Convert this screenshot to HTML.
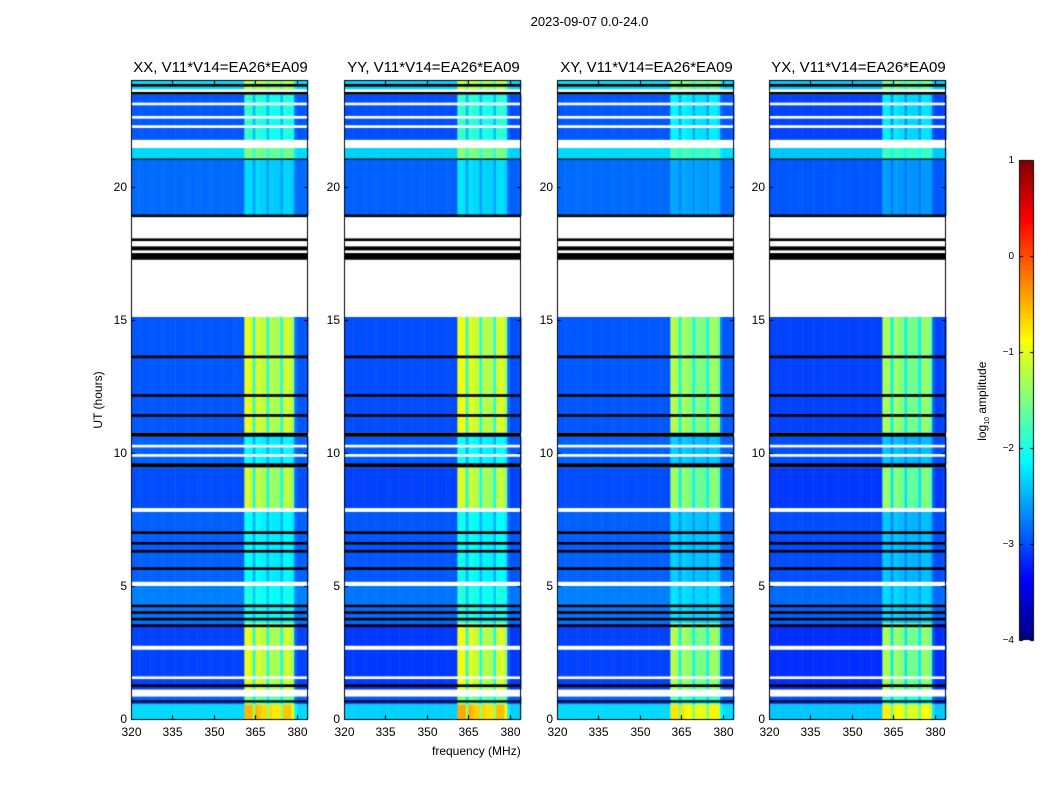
<!DOCTYPE html>
<html><head><meta charset="utf-8"><style>
body{margin:0;background:#fff;}
#wrap{position:relative;width:1050px;height:800px;overflow:hidden;font-family:"Liberation Sans",sans-serif;color:#000;}
.t{position:absolute;white-space:nowrap;}
canvas{position:absolute;}
</style></head><body>
<div id="wrap">
<div class="t" style="left:0;width:1179px;top:14px;text-align:center;font-size:13px;">2023-09-07 0.0-24.0</div>
<div class="t" style="left:432px;top:744px;font-size:12px;">frequency (MHz)</div>
<div class="t" style="left:60px;top:393px;font-size:12px;transform:rotate(-90deg);transform-origin:center;width:76px;text-align:center;">UT (hours)</div>
<div class="t" style="left:935px;top:393px;font-size:12px;transform:rotate(-90deg);width:96px;text-align:center;">log<sub style="font-size:7px">10</sub> amplitude</div>
<canvas id="cv" width="1050" height="800"></canvas>
</div>
<script>
const panelTitles=["XX, V11*V14=EA26*EA09","YY, V11*V14=EA26*EA09","XY, V11*V14=EA26*EA09","YX, V11*V14=EA26*EA09"];
const panelBandOffset=[0,0.05,-0.25,-0.3];
const panelBaseOffset=[0,-0.05,0,-0.1];
const freqTicks=[320,335,350,365,380];
const timeTicks=[0,5,10,15,20];
const cbTicks=[1,0,-1,-2,-3,-4];
// time segments: [startHour, endHour, baseLog, bandLog]
const segStart=[0,0.55,1.1,3.6,4.3,5.15,7.9,9.55,10.75,18.9,21.0,21.75,23.65];
const segEnd=[0.55,0.85,3.6,4.3,5.0,7.8,9.45,10.6,15.1,21.0,21.45,23.45,24];
const segBase=[-2.3,-2.9,-3.05,-2.8,-2.75,-2.9,-3.0,-2.9,-2.95,-2.85,-2.3,-2.95,-2.3];
const segBand=[-0.5,-1.5,-1.0,-2.0,-2.0,-2.1,-1.1,-2.1,-1.0,-2.3,-1.5,-1.9,-1.2];
// white (flagged) ranges
const whiteStart=[0.85,1.5,2.6,5.0,7.78,9.85,10.2,15.1,18.2,21.45,22.2,22.55,23.05];
const whiteEnd=[1.1,1.6,2.75,5.15,7.92,9.95,10.3,18.85,18.9,21.75,22.3,22.65,23.15];
// black ranges
const blackStart=[0.62,1.2,3.45,3.7,3.95,4.2,5.6,6.25,6.55,6.95,9.45,10.6,11.35,12.1,13.55,17.25,17.6,17.95,18.85,21.0,23.45,23.75];
const blackEnd=[0.7,1.3,3.55,3.8,4.05,4.3,5.7,6.35,6.65,7.05,9.6,10.75,11.45,12.2,13.65,17.5,17.75,18.05,18.95,21.05,23.55,23.85];
// band shape per 1 MHz column from 320 to 383
const bandMask=[0,0,0,0,0,0,0,0,0,0,0,0,0,0,0,0,0,0,0,0,0,0,0,0,0,0,0,0,0,0,0,0,0,0,0,0,0,0,0,0,0,1,1,1,0.5,1,0.95,0.9,0.9,0.5,0.9,0.85,0.85,0.85,0.5,0.95,0.95,0.95,0.8,0.1,0,0,0,0];

const X0=[131,344,557,769], PW=177, YT=80, YB=719;
const fx=(f,p)=>X0[p]+(f-320)*PW/64;
const ty=t=>YB-t*(YB-YT)/24;
function jet(v){let x=Math.max(0,Math.min(1,(v+4)/5));
 const c=k=>Math.max(0,Math.min(1,1.5-Math.abs(4*x-k)));
 return `rgb(${Math.round(255*c(3))},${Math.round(255*c(2))},${Math.round(255*c(1))})`;}
const cv=document.getElementById('cv'),g=cv.getContext('2d');
const wrap=document.getElementById('wrap');
function label(txt,x,y,al,fs,name){const d=document.createElement('div');d.className='t';d.textContent=txt;
 d.style.fontSize=fs+'px';d.style.top=(y-fs*0.6)+'px';d.style.left=x+'px';
 d.style.transform=al==='c'?'translateX(-50%)':'translateX(-100%)';
 
 
 wrap.appendChild(d);}
for(let p=0;p<4;p++){
 for(let s=0;s<segStart.length;s++){
  const y1=ty(segEnd[s]),y0=ty(segStart[s]);
  for(let f=0;f<64;f++){
   const b=segBase[s]+panelBaseOffset[p];
   const v=b+(segBand[s]+panelBandOffset[p]-b)*bandMask[f];
   g.fillStyle=jet(v);g.fillRect(fx(320+f,p),y1,PW/64+0.5,y0-y1);
  }}
 g.fillStyle='#fff';
 for(let i=0;i<whiteStart.length;i++){const a=ty(whiteEnd[i]),b=ty(whiteStart[i]);g.fillRect(X0[p],a,PW,b-a);}
 g.fillStyle='#000';
 for(let i=0;i<blackStart.length;i++){const a=ty(blackEnd[i]),b=ty(blackStart[i]);g.fillRect(X0[p],a,PW,Math.max(1,b-a));}
 g.strokeStyle='#000';g.lineWidth=1;g.strokeRect(X0[p]+0.5,YT+0.5,PW-1,YB-YT);
 for(const f of freqTicks){const x=Math.round(fx(f,p))+0.5;g.beginPath();g.moveTo(x,YB);g.lineTo(x,YB-4);g.moveTo(x,YT);g.lineTo(x,YT+4);g.stroke();
  label(String(f),x,YB+13,'c',12,'x-tick-label');}
 for(const t of timeTicks){const y=Math.round(ty(t))+0.5;g.beginPath();g.moveTo(X0[p],y);g.lineTo(X0[p]+4,y);g.moveTo(X0[p]+PW,y);g.lineTo(X0[p]+PW-4,y);g.stroke();
  label(String(t),X0[p]-4,y,'r',12,'y-tick-label');}
 label(panelTitles[p],X0[p]+PW/2+1,68,'c',15,'panel-title');
}
// colorbar
const CX=1019,CW=15,CT=160,CB=640;
for(let y=CT;y<CB;y++){g.fillStyle=jet(1-(y-CT+0.5)/(CB-CT)*5);g.fillRect(CX,y,CW,1);}
g.strokeStyle='#000';g.strokeRect(CX+0.5,CT+0.5,CW-1,CB-CT-1);
for(const v of cbTicks){const y=Math.round(CT+(1-v)/5*(CB-CT))+0.5;g.beginPath();g.moveTo(CX,y);g.lineTo(CX+4,y);g.moveTo(CX+CW,y);g.lineTo(CX+CW-4,y);g.stroke();
 label(String(v).replace('-','\u2212'),CX-5,y,'r',10,'colorbar-tick-label');}
</script>
</body></html>
